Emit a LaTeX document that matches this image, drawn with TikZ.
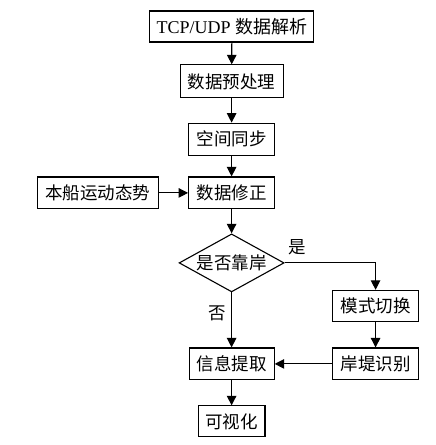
\documentclass[tikz,border=0pt]{standalone}
\usepackage{fontspec}
\setmainfont{Liberation Serif}
\newfontfamily\cjk{Noto Sans CJK SC}
\usetikzlibrary{shapes.geometric,arrows.meta}

\begin{document}
\begin{tikzpicture}[
    box/.style={draw,line width=1.1pt,inner sep=0pt,minimum height=1.12cm,font=\cjk\fontsize{17.5}{20}\selectfont},
    judgebox/.style={draw,diamond,aspect=1.8,line width=1.1pt,inner sep=0pt,minimum width=3.69cm,minimum height=2.04cm,font=\cjk\fontsize{17.5}{20}\selectfont},
    flow/.style={line width=1.1pt,-{Triangle[length=9.5pt,width=9.5pt]}},
    lbl/.style={font=\cjk\fontsize{17.5}{20}\selectfont}]
    \useasboundingbox (0,0) rectangle (15.29,-15.64);
    \node[box,minimum width=5.76cm,minimum height=1.09cm] (tcp) at (8.15,-0.93) {\rmfamily\fontsize{18}{20}\selectfont TCP/UDP {\cjk 数据解析}};
    \node[box,minimum width=3.62cm,minimum height=1.16cm] (pre) at (8.14,-2.86) {数据预处理};
    \node[box,minimum width=3.02cm] (sync) at (8.14,-4.89) {空间同步};
    \node[box,minimum width=3.02cm] (fix) at (8.14,-6.78) {数据修正};
    \node[box,minimum width=4.25cm] (own) at (3.43,-6.78) {本船运动态势};
    \node[judgebox] (judge) at (8.14,-9.24) {是否靠岸};
    \node[box,minimum width=3.02cm,minimum height=1.09cm] (mode) at (13.2,-10.75) {模式切换};
    \node[box,minimum width=3.02cm] (shore) at (13.2,-12.79) {岸堤识别};
    \node[box,minimum width=2.99cm] (info) at (8.14,-12.79) {信息提取};
    \node[box,minimum width=2.35cm,minimum height=1.09cm] (vis) at (8.14,-14.81) {可视化};
    \draw[flow] (tcp) -- (pre);
    \draw[flow] (pre) -- (sync);
    \draw[flow] (sync) -- (fix);
    \draw[flow] (own) -- (fix);
    \draw[flow] (fix) -- (judge);
    \draw[flow] (judge.east) -| (mode.north);
    \draw[flow] (judge.south) -- (info.north);
    \draw[flow] (mode) -- (shore);
    \draw[flow] (shore) -- (info);
    \draw[flow] (info) -- (vis);
    \node[lbl] (yes) at (10.44,-8.68) {是};
    \node[lbl] (no) at (7.63,-11.0) {否};
\end{tikzpicture}
\end{document}
